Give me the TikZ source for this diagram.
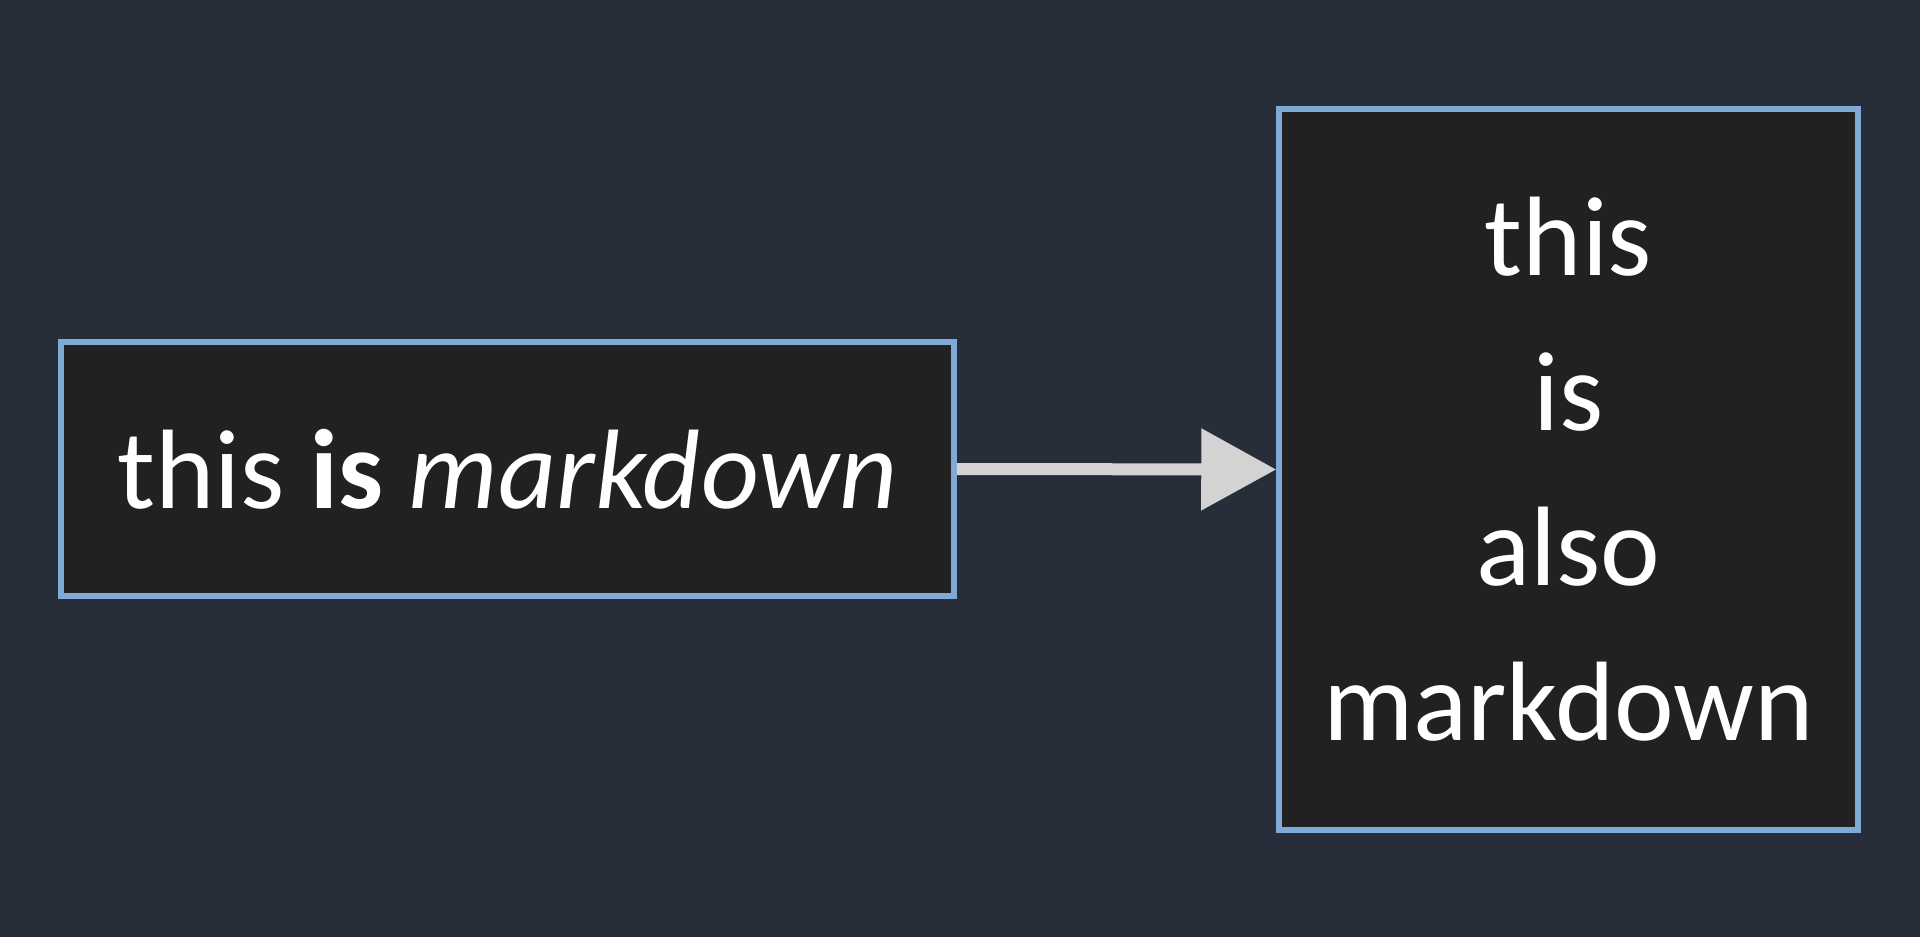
\documentclass[tikz,border=0pt]{standalone}
\usepackage{fontspec}
\setmainfont{Carlito}
\usetikzlibrary{arrows.meta}
\definecolor{bgc}{RGB}{40,45,58}
\definecolor{boxfill}{RGB}{33,33,33}
\definecolor{boxline}{RGB}{127,169,214}
\definecolor{arrowc}{RGB}{211,211,211}
\tikzset{
  mdbox/.style={draw=boxline, fill=boxfill, line width=5.5pt, text=white, inner sep=0pt, align=center,
    font=\fontsize{113}{155}\selectfont},
  link/.style={draw=arrowc, line width=12pt, -{Triangle[length=75pt,width=79pt]}}
}
\begin{document}
\begin{tikzpicture}[x=1pt,y=-1pt]
\fill[bgc] (0,0) rectangle (1920,937);
\useasboundingbox (0,0) rectangle (1920,937);
\node[mdbox, minimum width=893pt, minimum height=254pt] (a) at (507.5,469) {this \textbf{is} \textit{markdown}};
\node[mdbox, minimum width=579pt, minimum height=721pt] (b) at (1568.5,469.5) {this\\is\\also\\markdown};
\draw[link] (a.east) -- (b.west);
\end{tikzpicture}
\end{document}
